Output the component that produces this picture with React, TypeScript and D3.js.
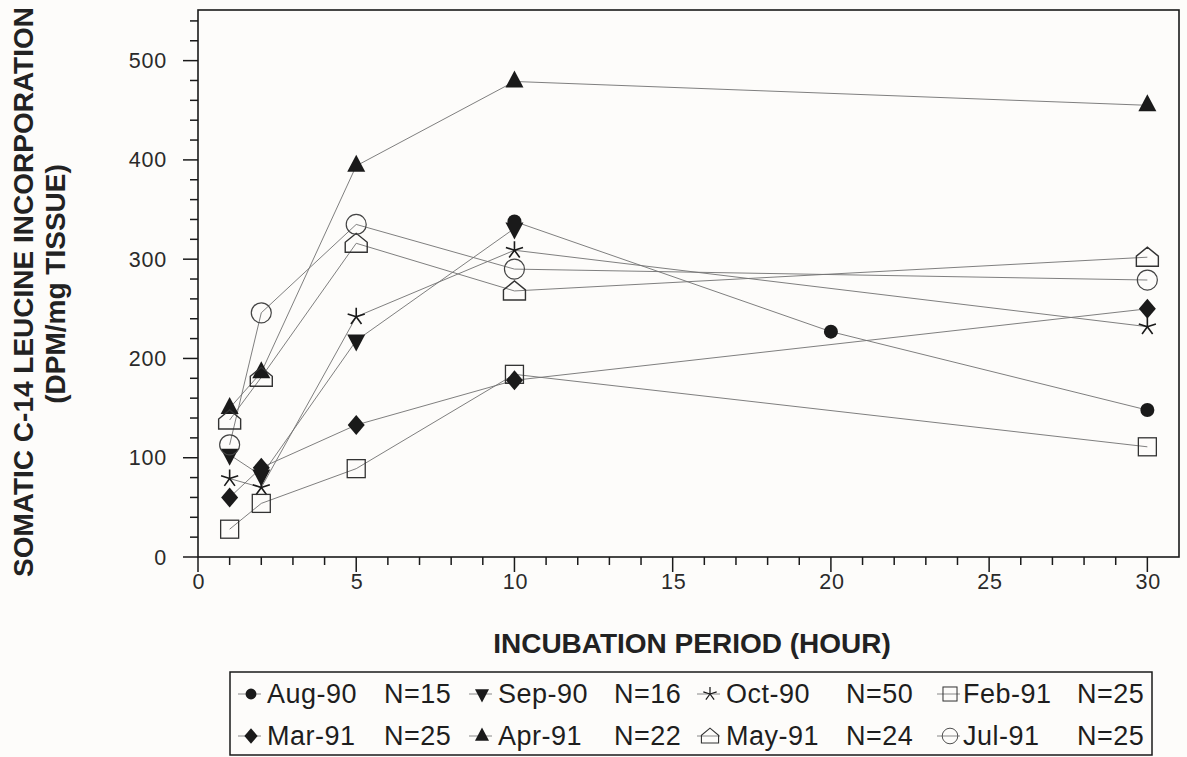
import React from 'react'
import * as d3 from 'd3'

// hours and values
const hoursMain = [1, 2, 5, 10, 30]
const hoursAug = [10, 20, 30]
const hoursSep = [1, 2, 5, 10]

const aug90 = [338, 227, 148]
const sep90 = [103, 82, 218, 331]
const oct90 = [79, 70, 242, 309, 232]
const feb91 = [28, 54, 89, 184, 111]
const mar91 = [60, 90, 133, 178, 250]
const apr91 = [150, 186, 394, 479, 455]
const may91 = [138, 181, 316, 268, 302]
const jul91 = [113, 246, 335, 290, 279]

const xTicks = [0, 5, 10, 15, 20, 25, 30]
const yTicks = [0, 100, 200, 300, 400, 500]

type Shape = 'dot' | 'down' | 'star' | 'square' | 'diamond' | 'up' | 'house' | 'circle'

const series: { name: string; n: string; shape: Shape; x: number[]; y: number[] }[] = [
  { name: 'Aug-90', n: 'N=15', shape: 'dot', x: hoursAug, y: aug90 },
  { name: 'Sep-90', n: 'N=16', shape: 'down', x: hoursSep, y: sep90 },
  { name: 'Oct-90', n: 'N=50', shape: 'star', x: hoursMain, y: oct90 },
  { name: 'Feb-91', n: 'N=25', shape: 'square', x: hoursMain, y: feb91 },
  { name: 'Mar-91', n: 'N=25', shape: 'diamond', x: hoursMain, y: mar91 },
  { name: 'Apr-91', n: 'N=22', shape: 'up', x: hoursMain, y: apr91 },
  { name: 'May-91', n: 'N=24', shape: 'house', x: hoursMain, y: may91 },
  { name: 'Jul-91', n: 'N=25', shape: 'circle', x: hoursMain, y: jul91 },
]

const W = 1187
const H = 757
const plot = { left: 198, right: 1179, top: 10, bottom: 557 }

const x = d3.scaleLinear().domain([0, 31]).range([plot.left, plot.right])
const y = d3.scaleLinear().domain([0, 551]).range([plot.bottom, plot.top])

const INK = '#1a1a1a'
const LINE = '#707070'

function Marker({ shape, cx, cy, s = 1 }: { shape: Shape; cx: number; cy: number; s?: number }) {
  const t = `translate(${cx},${cy}) scale(${s})`
  switch (shape) {
    case 'dot':
      return <circle transform={t} r={7} fill={INK} />
    case 'down':
      return <path transform={t} d="M-9,-6 L9,-6 L0,11 Z" fill={INK} />
    case 'up':
      return <path transform={t} d="M-9,6 L9,6 L0,-11 Z" fill={INK} />
    case 'diamond':
      return <path transform={t} d="M0,-10 L8.5,0 L0,10 L-8.5,0 Z" fill={INK} />
    case 'square':
      return <rect transform={t} x={-9} y={-9} width={18} height={18} fill="none" stroke="#333" strokeWidth={1.3} />
    case 'circle':
      return <circle transform={t} r={10} fill="none" stroke="#444" strokeWidth={1.2} />
    case 'house':
      return <path transform={t} d="M-11,9 L11,9 L11,-1 L0,-10 L-11,-1 Z" fill="none" stroke="#333" strokeWidth={1.4} />
    case 'star': {
      const arms = d3.range(5).map(i => {
        const a = (-90 + i * 72) * Math.PI / 180
        return `M0,0 L${(9 * Math.cos(a)).toFixed(2)},${(9 * Math.sin(a)).toFixed(2)}`
      })
      return <path transform={t} d={arms.join(' ')} fill="none" stroke={INK} strokeWidth={1.6} />
    }
  }
}

// legend layout (measured positions)
const legendCols = [
  { marker: 251, label: 267, n: 384 },
  { marker: 482, label: 498, n: 614 },
  { marker: 710, label: 726, n: 846 },
  { marker: 950, label: 963, n: 1077 },
]

export default function App() {
  const line = d3.line<[number, number]>().x(d => x(d[0])).y(d => y(d[1]))
  const font = '"Liberation Sans", Arial, Helvetica, sans-serif'
  const yMinor = d3.range(0, 550, 20)
  const xMinor = d3.range(0, 31, 1)

  return (
    <svg width={W} height={H} style={{ position: 'absolute', left: 0, top: 0, background: '#fdfcfa' }}
      fontFamily={font}>
      {/* frame */}
      <rect x={plot.left} y={plot.top} width={plot.right - plot.left} height={plot.bottom - plot.top}
        fill="none" stroke={INK} strokeWidth={1.6} />

      {/* y ticks */}
      {yMinor.map(v => (
        <line key={'ym' + v} x1={plot.left} x2={plot.left - (v % 100 === 0 ? 15 : 8)} y1={y(v)} y2={y(v)}
          stroke={INK} strokeWidth={1.5} />
      ))}
      {yTicks.map(v => (
        <text key={'yl' + v} x={167} y={y(v) + 7.5} textAnchor="end" fontSize={21.5} fill="#2a2a2a"
          letterSpacing={0.8}>{v}</text>
      ))}

      {/* x ticks */}
      {xMinor.map(v => (
        <line key={'xm' + v} x1={x(v)} x2={x(v)} y1={plot.bottom} y2={plot.bottom + (v % 5 === 0 ? 15 : 8)}
          stroke={INK} strokeWidth={1.5} />
      ))}
      {xTicks.map(v => (
        <text key={'xl' + v} x={x(v) + 1} y={589} textAnchor="middle" fontSize={21.5} fill="#2a2a2a"
          letterSpacing={0.8}>{v}</text>
      ))}

      {/* axis titles */}
      <text transform="translate(33,292) rotate(-90)" textAnchor="middle" fontSize={28} fontWeight="bold"
        fill="#222">SOMATIC C-14 LEUCINE INCORPORATION</text>
      <text transform="translate(65,284) rotate(-90)" textAnchor="middle" fontSize={28} fontWeight="bold"
        fill="#222">(DPM/mg TISSUE)</text>
      <text x={692} y={653} textAnchor="middle" fontSize={28} fontWeight="bold" fill="#222">
        INCUBATION PERIOD (HOUR)</text>

      {/* series lines */}
      {series.map(s => (
        <path key={'l' + s.name} d={line(s.x.map((h, i) => [h, s.y[i]] as [number, number])) || ''}
          fill="none" stroke={LINE} strokeWidth={0.9} />
      ))}
      {/* markers */}
      {series.map(s => s.x.map((h, i) => (
        <Marker key={s.name + i} shape={s.shape} cx={x(h)} cy={y(s.y[i])} />
      )))}

      {/* legend */}
      <rect x={230} y={672} width={922} height={83} fill="none" stroke={INK} strokeWidth={1.5} />
      {series.map((s, i) => {
        const col = legendCols[i % 4]
        const row = Math.floor(i / 4)
        const base = row === 0 ? 703 : 745
        const cy = base - 9
        return (
          <g key={'lg' + s.name}>
            <line x1={col.marker - 13} x2={col.marker + 10} y1={cy} y2={cy} stroke="#888" strokeWidth={1} />
            <Marker shape={s.shape} cx={col.marker} cy={cy} s={0.78} />
            <text x={col.label} y={base} fontSize={27} letterSpacing={0.5} fill="#1e1e1e">{s.name}</text>
            <text x={col.n} y={base} fontSize={27} letterSpacing={0.5} fill="#1e1e1e">{s.n}</text>
          </g>
        )
      })}
    </svg>
  )
}
